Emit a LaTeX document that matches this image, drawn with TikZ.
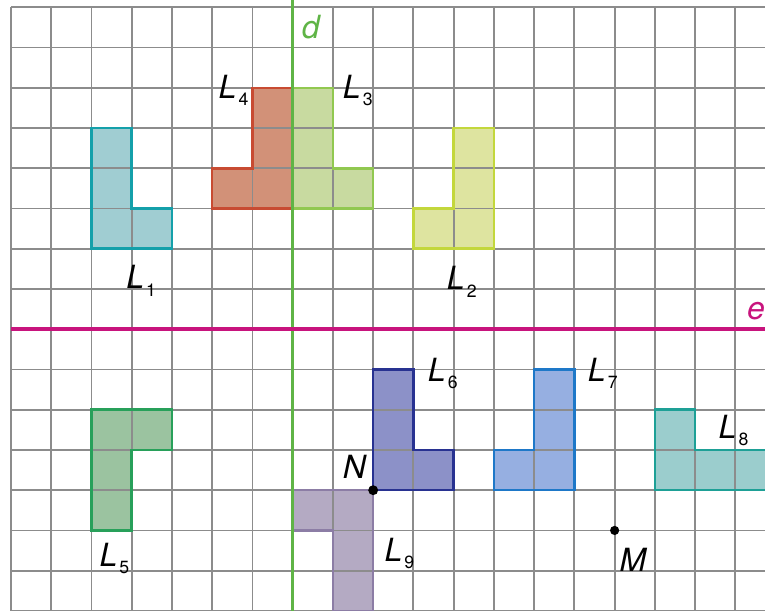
\documentclass[tikz,border=0pt]{standalone}
\usepackage{fontspec}
\setmainfont{TeX Gyre Heros}
\definecolor{gridc}{RGB}{140,140,140}
\definecolor{dcol}{RGB}{95,180,70}
\definecolor{ecol}{RGB}{200,20,125}
\definecolor{fA}{RGB}{160,205,210}\definecolor{sA}{RGB}{20,160,170}
\definecolor{fB}{RGB}{222,228,160}\definecolor{sB}{RGB}{195,215,60}
\definecolor{fC}{RGB}{200,218,160}\definecolor{sC}{RGB}{145,200,80}
\definecolor{fD}{RGB}{210,145,120}\definecolor{sD}{RGB}{200,75,50}
\definecolor{fE}{RGB}{155,195,160}\definecolor{sE}{RGB}{40,160,90}
\definecolor{fF}{RGB}{140,145,200}\definecolor{sF}{RGB}{40,50,145}
\definecolor{fG}{RGB}{150,175,225}\definecolor{sG}{RGB}{30,120,200}
\definecolor{fH}{RGB}{155,205,205}\definecolor{sH}{RGB}{30,160,150}
\definecolor{fI}{RGB}{180,170,195}\definecolor{sI}{RGB}{140,125,165}
\newcommand\Lsub[1]{L\kern1.5pt\raisebox{-5pt}{\upshape\fontsize{12.5}{12.5}\selectfont #1}}
\def\pA{(2,-3) -- (3,-3) -- (3,-5) -- (4,-5) -- (4,-6) -- (2,-6) -- cycle}
\def\pB{(11,-3) -- (12,-3) -- (12,-6) -- (10,-6) -- (10,-5) -- (11,-5) -- cycle}
\def\pC{(7,-2) -- (8,-2) -- (8,-4) -- (9,-4) -- (9,-5) -- (7,-5) -- cycle}
\def\pD{(6,-2) -- (7,-2) -- (7,-5) -- (5,-5) -- (5,-4) -- (6,-4) -- cycle}
\def\pE{(2,-10) -- (4,-10) -- (4,-11) -- (3,-11) -- (3,-13) -- (2,-13) -- cycle}
\def\pF{(9,-9) -- (10,-9) -- (10,-11) -- (11,-11) -- (11,-12) -- (9,-12) -- cycle}
\def\pG{(13,-9) -- (14,-9) -- (14,-12) -- (12,-12) -- (12,-11) -- (13,-11) -- cycle}
\def\pH{(16,-10) -- (17,-10) -- (17,-11) -- (19,-11) -- (19,-12) -- (16,-12) -- cycle}
\def\pI{(7,-12) -- (9,-12) -- (9,-15) -- (8,-15) -- (8,-13) -- (7,-13) -- cycle}
\begin{document}
\begin{tikzpicture}[x=1cm,y=1cm,
  lab/.style={inner sep=0pt, anchor=base west, font=\fontsize{22.6}{24}\selectfont\itshape},
  outl/.style={line width=1.8pt, line join=miter},
  gridline/.style={gridc, line width=1.3pt},
  dot/.style={circle, fill=black, inner sep=0pt, minimum size=#1}]
\useasboundingbox (-0.2734,0.1814) rectangle (18.737,-14.978);
\clip (-0.2734,0.1814) rectangle (18.737,-14.978);
% fills
\fill[fA] \pA; \fill[fB] \pB; \fill[fC] \pC; \fill[fD] \pD; \fill[fE] \pE;
\fill[fF] \pF; \fill[fG] \pG; \fill[fH] \pH; \fill[fI] \pI;
% grid
\draw[gridline] (0,-15) grid (19,0);
% outlines
\draw[outl, sA] \pA; \draw[outl, sB] \pB; \draw[outl, sC] \pC; \draw[outl, sD] \pD;
\draw[outl, sE] \pE; \draw[outl, sF] \pF; \draw[outl, sG] \pG; \draw[outl, sH] \pH;
\draw[outl, sI] \pI;
% axes
\coordinate (dtop) at (7,0.3);
\coordinate (dbot) at (7,-15.2);
\coordinate (eleft) at (0,-8);
\coordinate (eright) at (19,-8);
\draw[dcol, line width=2.1pt] (dtop) -- (dbot);
\draw[ecol, line width=2.6pt] (eleft) -- (eright);
% points
\node[dot=7pt] (N) at (9,-12) {};
\node[dot=6.5pt] (M) at (15,-13) {};
% labels
\node[lab, text=dcol] (dlab) at (7.224,-0.770) {d};
\node[lab, text=ecol] (elab) at (18.283,-7.753) {e};
\node[lab] (l1) at (2.858,-7.00) {\Lsub{1}};
\node[lab] (l2) at (10.827,-7.025) {\Lsub{2}};
\node[lab] (l3) at (8.243,-2.262) {\Lsub{3}};
\node[lab] (l4) at (5.152,-2.262) {\Lsub{4}};
\node[lab] (l5) at (2.194,-13.902) {\Lsub{5}};
\node[lab] (l6) at (10.355,-9.304) {\Lsub{6}};
\node[lab] (l7) at (14.331,-9.304) {\Lsub{7}};
\node[lab] (l8) at (17.577,-10.711) {\Lsub{8}};
\node[lab] (l9) at (9.277,-13.777) {\Lsub{9}};
\node[lab] (Nlab) at (8.243,-11.705) {N};
\node[lab] (Mlab) at (15.117,-14.026) {M};
\end{tikzpicture}
\end{document}
